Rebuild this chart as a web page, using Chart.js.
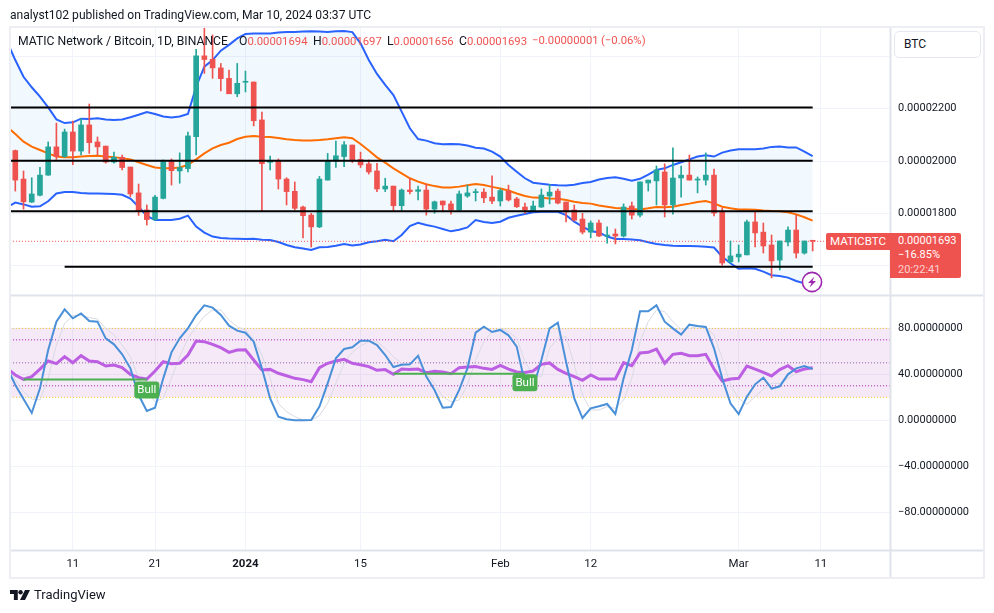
<!DOCTYPE html>
<html>
<head>
<meta charset="utf-8">
<title>MATICBTC 1D</title>
<script src="https://cdn.jsdelivr.net/npm/chart.js@4"></script>
<style>
  html, body { margin: 0; background: #fff; }
  body { width: 994px; height: 613px; position: relative; overflow: hidden; font-family: Roboto, sans-serif; color: #131722; }
  canvas { position: absolute; left: 0; top: 0; }
  .txt { position: absolute; white-space: nowrap; font-size: 12.2px; line-height: 16px; }
  .val { color: #ef5350; font-size: 11.3px; }
  #btcBox { position: absolute; left: 894px; top: 31px; width: 85px; height: 25px; border: 1px solid #e6e8ef; border-radius: 5px; font-size: 12px; line-height: 25px; text-indent: 9px; background: #fff; }
  #symbolTag { position: absolute; left: 826px; top: 233px; width: 64px; height: 17px; background: #ef5350; color: #fff; font-size: 11.6px; line-height: 17px; text-align: center; border-radius: 2px 0 0 2px; }
  #priceTag { position: absolute; left: 890px; top: 233px; width: 71px; height: 45px; background: #ef5350; color: #fff; font-size: 11px; line-height: 14.3px; border-radius: 0 2px 2px 0; padding-top: 1px; box-sizing: border-box; }
  #priceTag div { padding-left: 8px; }
  #priceTag .timer { color: #fbd0cf; }
  #bolt { position: absolute; left: 801px; top: 271px; }
  #logo { position: absolute; left: 10px; top: 589px; }
</style>
</head>
<body>
<canvas id="chart" width="994" height="613"></canvas>

<div class="txt" style="left:10px;top:7px;font-size:12.1px">analyst102 published on TradingView.com, Mar 10, 2024 03:37 UTC</div>

<div class="txt" style="left:18px;top:33px">MATIC Network / Bitcoin, 1D, BINANCE</div>
<div class="txt" style="left:239px;top:33px">O<span class="val">0.00001694</span></div>
<div class="txt" style="left:313px;top:33px">H<span class="val">0.00001697</span></div>
<div class="txt" style="left:387px;top:33px">L<span class="val">0.00001656</span></div>
<div class="txt" style="left:459px;top:33px">C<span class="val">0.00001693</span></div>
<div class="txt val" style="left:532px;top:33px;font-size:11.3px">−0.00000001</div>
<div class="txt val" style="left:601px;top:33px;font-size:11.3px">(−0.06%)</div>

<div id="btcBox">BTC</div>
<div id="symbolTag">MATICBTC</div>
<div id="priceTag">
  <div>0.00001693</div>
  <div>−16.85%</div>
  <div class="timer">20:22:41</div>
</div>

<svg id="bolt" width="22" height="22" viewBox="0 0 22 22">
  <circle cx="11" cy="11" r="9.6" fill="#fff" stroke="#9c27b0" stroke-width="1.6"/>
  <path d="M13.5 5.5 L7 12 H10.5 L8.5 16.5 L15 10 H11.5 Z" fill="#9c27b0"/>
</svg>

<svg id="logo" width="20" height="12" viewBox="0 0 36 20">
  <path d="M0 1 H14 V19 H7 V8 H0 Z M36 1 L27 19 H18 L27 1 Z" fill="#131722"/>
  <circle cx="19" cy="5" r="4" fill="#131722"/>
</svg>
<div class="txt" style="left:34px;top:587px;font-size:13px">TradingView</div>

<script>
// prices are in satoshi (1e-8 BTC); index 0 is Dec 4 2023, one candle per day
const candleOpen = [
  2040, 1931, 1843, 1869, 1946, 2054, 2017, 2111, 2038, 2138,
  2073, 2057, 1996, 2014, 1977, 1878, 1813, 1776, 1857, 1997,
  1962, 1971, 2093, 2402, 2389, 2356, 2316, 2257, 2301, 2302,
  2157, 1995, 2000, 1931, 1884, 1824, 1793, 1748, 1927, 1999,
  2017, 2061, 2006, 1989, 1962, 1893, 1904, 1829, 1889, 1884,
  1889, 1816, 1847, 1836, 1813, 1866, 1879, 1881, 1862, 1847,
  1885, 1855, 1824, 1810, 1824, 1866, 1885, 1843, 1813, 1778,
  1728, 1763, 1713, 1721, 1713, 1828, 1793, 1916, 1924, 1958,
  1832, 1935, 1946, 1927, 1927, 1946, 1805, 1614, 1633, 1641,
  1767, 1728, 1679, 1621, 1690, 1736, 1648, 1694
];
const candleHigh = [
  2042, 1962, 1936, 1976, 2073, 2145, 2122, 2153, 2162, 2218,
  2092, 2057, 2034, 2023, 1977, 1912, 1832, 1869, 2004, 2008,
  2031, 2111, 2427, 2514, 2482, 2373, 2348, 2373, 2344, 2302,
  2187, 2019, 2008, 1936, 1920, 1828, 1800, 1941, 2029, 2076,
  2074, 2061, 2034, 2004, 1991, 1934, 1904, 1893, 1934, 1904,
  1911, 1847, 1847, 1847, 1885, 1908, 1893, 1895, 1943, 1893,
  1908, 1861, 1839, 1847, 1893, 1911, 1893, 1843, 1832, 1800,
  1771, 1774, 1748, 1740, 1836, 1843, 1920, 1927, 1981, 1989,
  2050, 1981, 2023, 1939, 2031, 1969, 1820, 1694, 1679, 1774,
  1805, 1763, 1717, 1694, 1748, 1793, 1694, 1697
];
const candleLow = [
  1885, 1816, 1841, 1866, 1945, 2006, 2014, 1986, 2023, 2029,
  2023, 1992, 1992, 1966, 1864, 1792, 1755, 1773, 1855, 1908,
  1915, 1958, 2023, 2335, 2316, 2268, 2257, 2246, 2264, 2134,
  1806, 1966, 1893, 1832, 1813, 1706, 1671, 1745, 1927, 1975,
  1978, 1994, 1975, 1950, 1883, 1883, 1806, 1810, 1874, 1851,
  1793, 1800, 1806, 1797, 1810, 1861, 1847, 1841, 1837, 1828,
  1847, 1822, 1800, 1806, 1822, 1836, 1836, 1767, 1771, 1721,
  1706, 1711, 1686, 1683, 1709, 1778, 1786, 1885, 1832, 1786,
  1797, 1862, 1927, 1878, 1908, 1790, 1602, 1610, 1614, 1641,
  1671, 1648, 1553, 1583, 1675, 1629, 1644, 1656
];
const candleClose = [
  1927, 1844, 1874, 1946, 2054, 2017, 2111, 2038, 2138, 2070,
  2054, 1996, 2014, 1975, 1874, 1810, 1776, 1862, 1997, 1963,
  1975, 2096, 2402, 2388, 2356, 2315, 2257, 2297, 2303, 2154,
  1990, 1999, 1931, 1883, 1819, 1791, 1748, 1931, 1999, 2020,
  2062, 2004, 1985, 1958, 1893, 1904, 1829, 1889, 1883, 1890,
  1816, 1844, 1832, 1813, 1874, 1878, 1883, 1859, 1847, 1887,
  1851, 1825, 1813, 1828, 1870, 1881, 1839, 1805, 1774, 1728,
  1763, 1713, 1717, 1713, 1824, 1793, 1920, 1927, 1966, 1832,
  1935, 1946, 1927, 1931, 1946, 1801, 1610, 1637, 1644, 1767,
  1725, 1675, 1618, 1694, 1736, 1648, 1694, 1693
];

// indicator arrays start one day earlier, at index -1, so the lines run off the left edge
const bandUpper = [
  2456, 2386, 2322, 2282, 2246, 2205, 2159, 2145, 2148, 2162,
  2161, 2163, 2159, 2157, 2159, 2167, 2177, 2187, 2180, 2170,
  2166, 2170, 2180, 2284, 2361, 2386, 2422, 2444, 2469, 2486,
  2488, 2488, 2488, 2491, 2493, 2493, 2495, 2496, 2495, 2493,
  2496, 2497, 2493, 2450, 2386, 2333, 2291, 2252, 2189, 2125,
  2084, 2078, 2068, 2064, 2065, 2064, 2059, 2051, 2048, 2036,
  2017, 1985, 1959, 1934, 1917, 1913, 1909, 1907, 1906, 1909,
  1916, 1920, 1929, 1935, 1938, 1932, 1925, 1932, 1948, 1966,
  1972, 1985, 1995, 2006, 2017, 2022, 2017, 2032, 2040, 2045,
  2045, 2045, 2048, 2054, 2055, 2052, 2052, 2036, 2019
];
const bandBasis = [
  2131, 2103, 2074, 2055, 2042, 2029, 2017, 2014, 2014, 2017,
  2019, 2020, 2017, 2014, 2011, 2006, 1995, 1985, 1975, 1972,
  1972, 1975, 1985, 2006, 2029, 2048, 2061, 2070, 2084, 2093,
  2096, 2093, 2092, 2088, 2083, 2080, 2078, 2078, 2080, 2083,
  2087, 2091, 2087, 2065, 2040, 2014, 1994, 1972, 1953, 1934,
  1921, 1911, 1904, 1899, 1899, 1902, 1907, 1912, 1908, 1901,
  1895, 1887, 1876, 1866, 1860, 1859, 1857, 1856, 1851, 1844,
  1839, 1837, 1830, 1825, 1820, 1818, 1816, 1815, 1819, 1824,
  1823, 1825, 1832, 1837, 1843, 1847, 1838, 1825, 1819, 1815,
  1815, 1814, 1811, 1809, 1808, 1804, 1796, 1785, 1772
];
const bandLower = [
  1823, 1841, 1834, 1825, 1827, 1846, 1876, 1881, 1881, 1878,
  1876, 1876, 1875, 1874, 1871, 1856, 1825, 1790, 1774, 1774,
  1774, 1779, 1791, 1749, 1726, 1711, 1706, 1704, 1703, 1702,
  1703, 1699, 1698, 1690, 1679, 1670, 1665, 1660, 1670, 1671,
  1676, 1683, 1677, 1681, 1689, 1693, 1699, 1693, 1717, 1751,
  1764, 1755, 1749, 1740, 1731, 1737, 1746, 1774, 1767, 1763,
  1768, 1783, 1791, 1797, 1804, 1806, 1806, 1806, 1793, 1768,
  1749, 1732, 1727, 1711, 1702, 1702, 1700, 1697, 1689, 1683,
  1679, 1676, 1675, 1675, 1674, 1672, 1669, 1634, 1609, 1588,
  1590, 1588, 1577, 1563, 1560, 1554, 1541, 1532, 1525
];

const stochK = [
  45.8, 30.7, 18.6, 6.4, 27.8, 61.2, 85.8, 96.5, 88.7, 93.0,
  86.4, 85.8, 71.3, 66.1, 57.4, 45.2, 22.0, 8.1, 11.0, 36.5,
  59.1, 71.3, 80.0, 91.6, 100.0, 98.0, 91.6, 82.3, 78.0, 76.2,
  68.4, 45.2, 19.1, 3.2, 0.9, 0, 0, 0.3, 11.9, 32.2,
  53.9, 62.0, 63.5, 69.3, 69.3, 65.5, 56.8, 46.4, 48.4, 48.7,
  56.2, 38.0, 26.4, 11.0, 11.6, 26.4, 45.2, 76.2, 81.4, 76.8,
  78.6, 73.9, 64.1, 32.2, 28.4, 52.5, 80.0, 84.9, 51.0, 19.1,
  2.0, 10.4, 12.2, 14.2, 5.5, 36.5, 61.2, 94.8, 94.8, 100.0,
  85.8, 80.0, 74.5, 83.2, 82.0, 81.2, 62.6, 36.5, 14.8, 5.5,
  20.6, 31.3, 37.1, 27.5, 29.6, 40.0, 45.2, 47.2, 44.6
];
const stochD = [
  46.7, 35.1, 24.9, 18.6, 17.7, 36.5, 65.5, 84.3, 91.0, 91.6,
  89.3, 88.1, 80.0, 74.2, 65.5, 55.4, 36.5, 24.9, 16.2, 19.1,
  36.5, 55.4, 71.3, 81.4, 90.7, 95.9, 95.9, 87.2, 81.4, 78.6,
  69.9, 56.8, 36.5, 14.8, 7.5, 3.2, 0.3, 0, 4.1, 14.8,
  32.2, 49.6, 59.1, 64.6, 68.4, 68.4, 62.6, 55.4, 49.6, 46.7,
  43.8, 40.9, 32.2, 20.6, 16.2, 17.7, 30.7, 52.5, 68.4, 77.1,
  80.0, 77.1, 71.3, 51.0, 39.4, 38.0, 62.6, 71.3, 72.8, 48.1,
  22.0, 9.0, 9.0, 11.9, 10.4, 17.7, 36.5, 68.4, 85.8, 95.9,
  94.5, 85.8, 79.1, 80.0, 81.4, 80.6, 74.2, 53.9, 30.7, 19.1,
  13.9, 20.6, 27.2, 32.2, 32.2, 36.5, 40.9, 44.6, 45.2
];
const rsiLine = [
  45.2, 39.4, 35.7, 38.0, 44.6, 51.6, 49.3, 55.4, 50.1, 56.2,
  51.6, 51.0, 47.2, 48.1, 45.8, 40.0, 37.1, 35.9, 42.9, 51.0,
  49.3, 49.6, 56.8, 69.0, 68.4, 66.1, 63.2, 59.1, 61.2, 61.4,
  52.5, 43.8, 44.3, 40.9, 38.8, 36.5, 35.4, 33.6, 45.8, 49.6,
  51.6, 53.0, 49.6, 48.4, 46.7, 43.5, 44.1, 40.0, 44.6, 44.3,
  44.6, 41.4, 42.6, 42.0, 40.6, 45.8, 46.4, 46.7, 45.2, 44.3,
  47.8, 44.6, 42.0, 41.7, 42.9, 48.7, 49.9, 44.3, 40.9, 38.0,
  34.8, 39.4, 35.9, 35.9, 35.9, 50.1, 47.5, 58.6, 59.1, 62.0,
  49.6, 57.4, 58.3, 56.2, 56.2, 57.4, 44.6, 34.2, 35.9, 36.5,
  47.2, 44.6, 41.7, 38.6, 44.1, 47.5, 42.3, 44.6, 45.8
];

// horizontal levels on the price pane
const trendLevels = [2205, 2001, 1808, 1596];
const trendStarts = [-1, -1, -1, 6];
const trendEnd = 97;
const lastClose = 1693;

// RSI bands
const rsiShadeTop = 80;
const rsiShadeBottom = 20;
const rsiDottedLevels = [70, 50, 30];
const rsiLevelColors = ['#a21caf', '#8e5a9e', '#a21caf'];

// "Bull" divergence signals
const bullStarts = [1, 46];
const bullEnds = [16, 62];
const bullLevels = [35.4, 40.6];
const bullTagLevels = [26.3, 32.7];

// axis ticks
const priceTicks = [2400, 2200, 2000, 1800, 1600];
const priceTickLabels = ['', '0.00002200', '0.00002000', '0.00001800', ''];
const oscTicks = [80, 40, 0, -40, -80];
const oscTickLabels = ['80.00000000', '40.00000000', '0.00000000', '−40.00000000', '−80.00000000'];
const timeTicks = [7, 17, 28, 42, 59, 70, 88, 98];
const timeLabels = ['11', '21', '2024', '15', 'Feb', '12', 'Mar', '11'];

const GREEN = '#26a69a';
const RED = '#ef5350';
const GRID = '#f0f3fa';
const FRAME = '#e0e3eb';
const xMin = -0.645;
const xMax = 106.41;

const isUp = candleClose.map((c, i) => c >= candleOpen[i]);
const candleColors = isUp.map(up => up ? GREEN : RED);

function series(values) {
  return values.map((v, i) => ({ x: i - 1, y: v }));
}

function flat(level, from, to) {
  return [{ x: from, y: level }, { x: to, y: level }];
}

function lineSet(data, yAxisID, color, width, order, extra) {
  return Object.assign({
    type: 'line',
    data,
    yAxisID,
    borderColor: color,
    borderWidth: width,
    pointRadius: 0,
    tension: 0,
    fill: false,
    order
  }, extra || {});
}

const datasets = [
  // Bollinger bands with the shaded channel
  lineSet(series(bandUpper), 'price', '#2962ff', 2, 12, { fill: '+1', backgroundColor: 'rgba(33,150,243,0.06)' }),
  lineSet(series(bandLower), 'price', '#2962ff', 2, 11),
  lineSet(series(bandBasis), 'price', '#ff6d00', 2, 10),
  lineSet(flat(lastClose, -1, 107), 'price', RED, 1, 9, { borderDash: [1, 2] }),

  // candles are a wick bar and a body bar over the same day
  {
    type: 'bar',
    data: candleLow.map((low, i) => ({ x: i, y: [low, candleHigh[i]] })),
    yAxisID: 'price',
    backgroundColor: candleColors,
    barThickness: 1,
    grouped: false,
    order: 5
  },
  {
    type: 'bar',
    data: candleOpen.map((open, i) => ({ x: i, y: [open, candleClose[i]] })),
    yAxisID: 'price',
    backgroundColor: candleColors,
    barThickness: 5,
    minBarLength: 1,
    grouped: false,
    order: 4
  }
];

trendLevels.forEach((level, i) => {
  datasets.push(lineSet(flat(level, trendStarts[i], trendEnd), 'price', '#000', 2, 2));
});

// oscillator pane
datasets.push(lineSet(flat(rsiShadeTop, -1, 107), 'osc', '#f5c518', 1, 12, {
  borderDash: [1, 2], fill: '+1', backgroundColor: 'rgba(156,39,176,0.1)'
}));
datasets.push(lineSet(flat(rsiShadeBottom, -1, 107), 'osc', '#f5c518', 1, 11, { borderDash: [1, 2] }));
rsiDottedLevels.forEach((level, i) => {
  datasets.push(lineSet(flat(level, -1, 107), 'osc', rsiLevelColors[i], 1, 10, { borderDash: [1, 2] }));
});
datasets.push(lineSet(series(stochD), 'osc', '#d9dae3', 1, 7));
datasets.push(lineSet(series(rsiLine), 'osc', '#bc5fe2', 3, 6));
datasets.push(lineSet(series(stochK), 'osc', '#4a90d9', 2, 5));

// pane borders and the signal markers go straight on the canvas
const paneDecor = {
  id: 'paneDecor',
  afterDatasetsDraw(chart) {
    const { ctx, scales } = chart;
    const x = scales.x;
    const osc = scales.osc;
    ctx.save();
    bullStarts.forEach((start, i) => {
      const yLine = osc.getPixelForValue(bullLevels[i]);
      ctx.strokeStyle = '#4caf50';
      ctx.lineWidth = 2;
      ctx.beginPath();
      ctx.moveTo(x.getPixelForValue(start), yLine);
      ctx.lineTo(x.getPixelForValue(bullEnds[i]), yLine);
      ctx.stroke();

      const cx = x.getPixelForValue(bullEnds[i]);
      const cy = osc.getPixelForValue(bullTagLevels[i]);
      ctx.fillStyle = '#4caf50';
      ctx.beginPath();
      ctx.roundRect(cx - 12.5, cy - 8.5, 25, 17, 3);
      ctx.fill();
      ctx.fillStyle = '#fff';
      ctx.font = '11.5px Roboto';
      ctx.textAlign = 'center';
      ctx.textBaseline = 'middle';
      ctx.fillText('Bull', cx, cy + 0.5);
    });
    ctx.restore();
  },
  afterDraw(chart) {
    const ctx = chart.ctx;
    ctx.save();
    ctx.strokeStyle = FRAME;
    ctx.lineWidth = 2;
    ctx.beginPath();
    ctx.moveTo(10, 295.5); ctx.lineTo(984, 295.5);
    ctx.moveTo(10, 550.5); ctx.lineTo(984, 550.5);
    ctx.moveTo(890.5, 27); ctx.lineTo(890.5, 578);
    ctx.stroke();
    ctx.strokeStyle = '#eceef4';
    ctx.strokeRect(10, 27, 974, 551);
    ctx.restore();
  }
};

const sharedTicks = {
  color: '#131722',
  font: { family: 'Roboto', size: 11 },
  padding: 8
};

new Chart(document.getElementById('chart'), {
  data: { datasets },
  plugins: [paneDecor],
  options: {
    responsive: false,
    animation: false,
    events: [],
    layout: { padding: { left: 10, top: 27, right: 0, bottom: 35 } },
    plugins: { legend: { display: false }, tooltip: { enabled: false } },
    scales: {
      x: {
        type: 'linear',
        offset: false,
        min: xMin,
        max: xMax,
        grid: { color: GRID, drawTicks: false, offset: false },
        border: { display: false },
        afterBuildTicks(scale) { scale.ticks = timeTicks.map(value => ({ value })); },
        afterFit(scale) { scale.height = 28; },
        ticks: {
          color: '#131722',
          maxRotation: 0,
          autoSkip: false,
          padding: 7,
          font: ctx => ({ family: 'Roboto', size: 11.5, weight: timeLabels[ctx.index] === '2024' ? 'bold' : 'normal' }),
          callback: (value, index) => timeLabels[index]
        }
      },
      price: {
        type: 'linear',
        position: 'right',
        stack: 'panes',
        stackWeight: 268,
        min: 1487.6,
        max: 2512.4,
        grid: { color: GRID, drawTicks: false },
        border: { display: false },
        afterBuildTicks(scale) { scale.ticks = priceTicks.map(value => ({ value })); },
        afterFit(scale) { scale.width = 104; },
        ticks: Object.assign({}, sharedTicks, { callback: (value, index) => priceTickLabels[index] })
      },
      osc: {
        type: 'linear',
        position: 'right',
        stack: 'panes',
        stackWeight: 255,
        min: -112.8,
        max: 109,
        grid: { color: GRID, drawTicks: false },
        border: { display: false },
        afterBuildTicks(scale) { scale.ticks = oscTicks.map(value => ({ value })); },
        afterFit(scale) { scale.width = 104; },
        ticks: Object.assign({}, sharedTicks, { callback: (value, index) => oscTickLabels[index] })
      }
    }
  }
});
</script>
</body>
</html>
